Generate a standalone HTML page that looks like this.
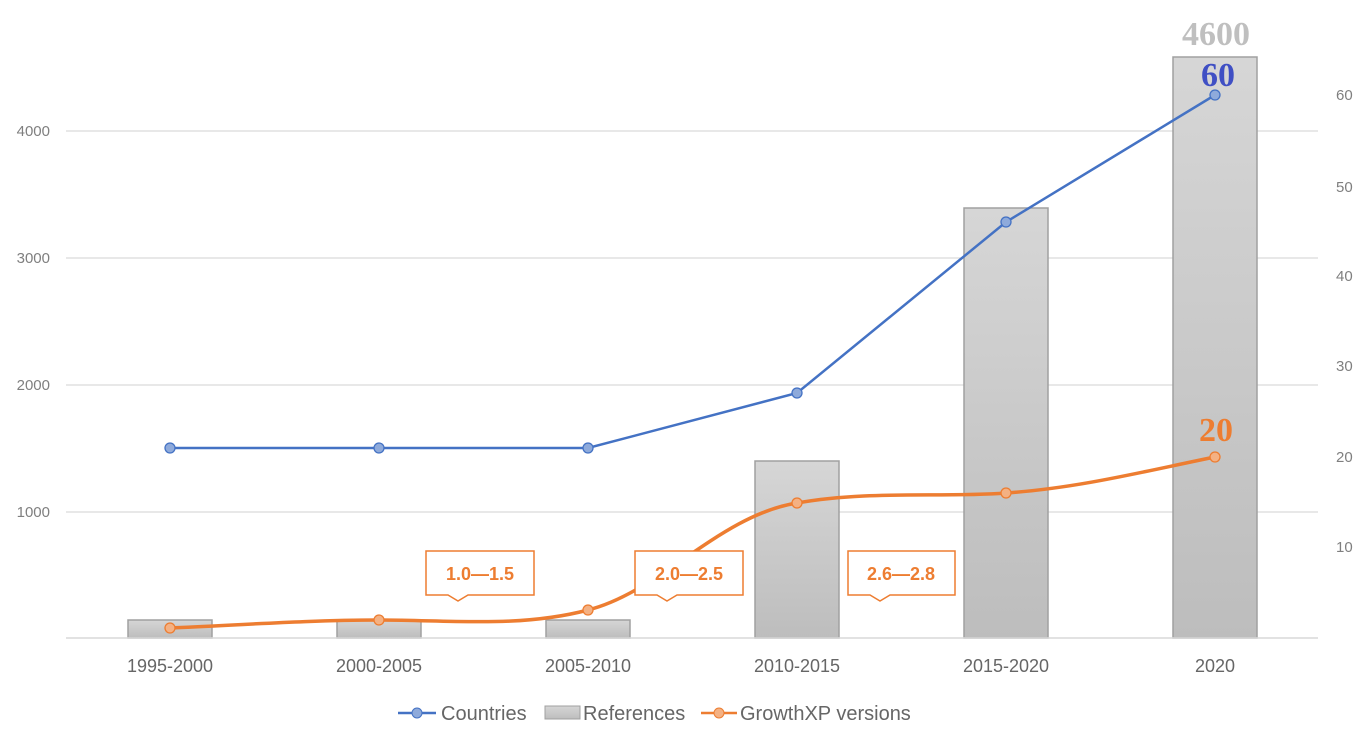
<!DOCTYPE html>
<html><head><meta charset="utf-8"><style>body{margin:0;background:#fff}svg{display:block}.s{font-family:"Liberation Sans",sans-serif}.r{font-family:"Liberation Serif",serif}</style></head><body>
<svg width="1360" height="748" viewBox="0 0 1360 748" xmlns="http://www.w3.org/2000/svg">
<defs><linearGradient id="g" x1="0" y1="0" x2="0" y2="1"><stop offset="0" stop-color="#d6d6d6"/><stop offset="1" stop-color="#bdbdbd"/></linearGradient></defs>
<g stroke="#d9d9d9" stroke-width="1.3">
<line x1="66" y1="131" x2="1318" y2="131"/><line x1="66" y1="258" x2="1318" y2="258"/><line x1="66" y1="385" x2="1318" y2="385"/><line x1="66" y1="512" x2="1318" y2="512"/>
</g>
<g class="s" fill="#7f7f7f" font-size="15" text-anchor="end"><text x="50" y="136">4000</text><text x="50" y="263">3000</text><text x="50" y="390">2000</text><text x="50" y="517">1000</text></g>
<g class="s" fill="#7f7f7f" font-size="15" text-anchor="start"><text x="1336" y="100">60</text><text x="1336" y="192">50</text><text x="1336" y="281">40</text><text x="1336" y="371">30</text><text x="1336" y="462">20</text><text x="1336" y="552">10</text></g>
<g fill="url(#g)" stroke="#a0a0a0" stroke-width="1.5">
<rect x="128" y="620" width="84" height="18"/><rect x="337" y="620" width="84" height="18"/><rect x="546" y="620" width="84" height="18"/>
<rect x="755" y="461" width="84" height="177"/><rect x="964" y="208" width="84" height="430"/><rect x="1173" y="57" width="84" height="581"/>
</g>
<line x1="66" y1="638" x2="1318" y2="638" stroke="#d9d9d9" stroke-width="1.5"/>
<g class="s" fill="#666" font-size="18" text-anchor="middle"><text x="170" y="672">1995-2000</text><text x="379" y="672">2000-2005</text><text x="588" y="672">2005-2010</text><text x="797" y="672">2010-2015</text><text x="1006" y="672">2015-2020</text><text x="1215" y="672">2020</text></g>
<polyline points="170,448 379,448 588,448 797,393 1006,222 1215,95" fill="none" stroke="#4472c4" stroke-width="2.5"/>
<g fill="#8eaadb" stroke="#4472c4" stroke-width="1.3"><circle cx="170" cy="448" r="5"/><circle cx="379" cy="448" r="5"/><circle cx="588" cy="448" r="5"/><circle cx="797" cy="393" r="5"/><circle cx="1006" cy="222" r="5"/><circle cx="1215" cy="95" r="5"/></g>
<path d="M170,628 C240,625 310,620 379,620 C450,620 520,628 588,610 C660,592 720,515 797,503 C870,490 940,498 1006,493 C1080,488 1150,470 1215,457" fill="none" stroke="#ed7d31" stroke-width="3.5"/>
<g fill="#f4b183" stroke="#ed7d31" stroke-width="1.3"><circle cx="170" cy="628" r="5"/><circle cx="379" cy="620" r="5"/><circle cx="588" cy="610" r="5"/><circle cx="797" cy="503" r="5"/><circle cx="1006" cy="493" r="5"/><circle cx="1215" cy="457" r="5"/></g>
<g fill="#fff" stroke="#ed7d31" stroke-width="1.5">
<path d="M426,551 H534 V595 H468 L458,601 L448,595 H426 Z"/>
<path d="M635,551 H743 V595 H677 L667,601 L657,595 H635 Z"/>
<path d="M848,551 H955 V595 H890 L880,601 L870,595 H848 Z"/>
</g>
<g class="s" fill="#ed7d31" font-size="18" font-weight="bold" text-anchor="middle"><text x="480" y="580">1.0—1.5</text><text x="689" y="580">2.0—2.5</text><text x="901" y="580">2.6—2.8</text></g>
<g class="r" font-weight="bold" font-size="34" text-anchor="middle">
<text x="1216" y="45" fill="#bfbfbf">4600</text><text x="1218" y="86" fill="#3f4fc4">60</text><text x="1216" y="441" fill="#ed7d31">20</text></g>
<g class="s" font-size="20" fill="#666">
<line x1="398" y1="713" x2="436" y2="713" stroke="#4472c4" stroke-width="2.5"/><circle cx="417" cy="713" r="5" fill="#8eaadb" stroke="#4472c4"/><text x="441" y="720">Countries</text>
<rect x="545" y="706" width="35" height="13" fill="url(#g)" stroke="#a0a0a0"/><text x="583" y="720">References</text>
<line x1="701" y1="713" x2="737" y2="713" stroke="#ed7d31" stroke-width="2.5"/><circle cx="719" cy="713" r="5" fill="#f4b183" stroke="#ed7d31"/><text x="740" y="720">GrowthXP versions</text>
</g>
</svg>
</body></html>
